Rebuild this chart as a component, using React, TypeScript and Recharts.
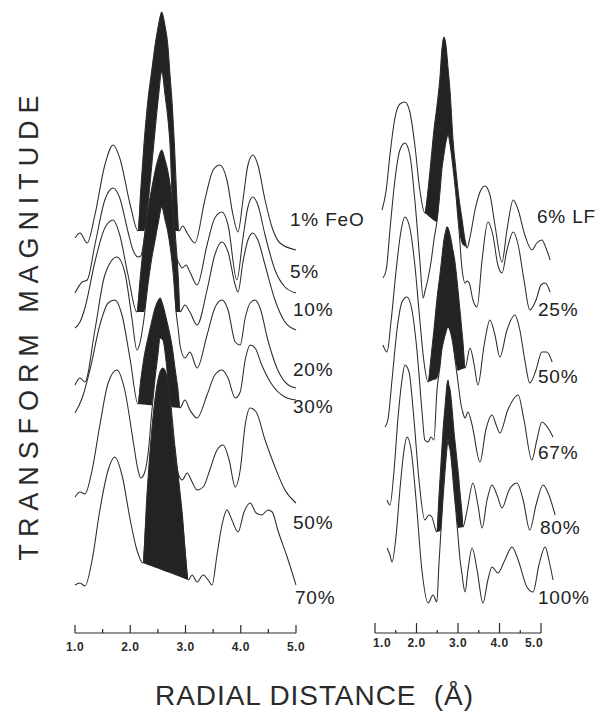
import React from "react";
import { ComposedChart, Line, Area, XAxis, YAxis, ReferenceLine } from "recharts";

// radial distance (Å) ticks, same for both panels
const TICKS = [1, 1.5, 2, 2.5, 3, 3.5, 4, 4.5, 5];

// ---- left panel: FeO series, [r (Å), magnitude] ----
const feo1 = [
  [1.0, 39.5], [1.09, 40.0], [1.22, 39.0], [1.36, 41.8], [1.54, 46.8], [1.69, 48.8], [1.81, 47.5], [2.0, 42.8],
  [2.14, 40.2], [2.19, 44.3], [2.25, 49.0], [2.32, 53.3], [2.39, 56.3], [2.45, 58.8], [2.51, 60.8], [2.57, 62.1],
  [2.63, 60.7], [2.68, 58.8], [2.72, 55.8], [2.76, 52.8], [2.8, 48.8], [2.84, 43.8], [2.88, 40.2],
  [2.95, 40.7], [3.03, 40.0], [3.17, 39.0], [3.35, 43.3], [3.5, 46.3], [3.62, 46.8], [3.75, 45.3], [3.86, 41.8],
  [3.95, 40.1], [4.04, 43.3], [4.13, 46.8], [4.22, 47.8], [4.31, 46.8], [4.44, 43.3], [4.57, 40.5], [4.71, 39.0], [5.0, 38.3],
];
const feo5 = [
  [1.0, 34.0], [1.13, 35.1], [1.22, 35.3], [1.36, 38.8], [1.54, 43.3], [1.69, 44.5], [1.81, 43.5], [1.96, 40.1], [2.05, 38.3],
  [2.14, 37.6], [2.19, 37.7], [2.25, 39.3], [2.32, 42.8], [2.39, 46.8], [2.45, 50.3], [2.51, 53.6], [2.57, 56.1],
  [2.63, 53.8], [2.68, 51.5], [2.72, 48.8], [2.76, 43.3], [2.8, 38.8], [2.84, 37.5], [2.88, 37.0],
  [2.94, 36.5], [3.01, 36.8], [3.08, 36.1], [3.21, 34.8], [3.39, 38.8], [3.53, 41.5], [3.66, 42.1], [3.77, 40.8],
  [3.93, 35.3], [4.04, 39.5], [4.13, 42.6], [4.22, 43.6], [4.31, 42.8], [4.44, 39.8], [4.62, 36.3], [4.8, 34.6], [5.0, 34.0],
];
const feo10 = [
  [1.0, 30.5], [1.09, 31.1], [1.18, 32.5], [1.36, 37.1], [1.54, 40.5], [1.69, 41.3], [1.81, 39.8], [1.96, 35.8],
  [2.12, 32.1], [2.18, 35.5], [2.25, 39.3], [2.32, 42.3], [2.39, 44.5], [2.45, 46.2], [2.51, 47.5], [2.57, 48.3],
  [2.63, 47.3], [2.68, 46.2], [2.73, 44.5], [2.78, 42.3], [2.83, 38.8], [2.87, 35.5], [2.9, 32.1],
  [2.99, 32.8], [3.08, 32.1], [3.21, 30.8], [3.39, 34.3], [3.53, 37.8], [3.66, 39.1], [3.77, 38.1], [3.9, 34.8],
  [3.95, 34.1], [4.04, 37.1], [4.13, 39.3], [4.22, 40.0], [4.31, 39.3], [4.44, 36.8], [4.62, 33.3], [4.8, 31.1], [5.0, 30.3],
];
const feo20 = [
  [1.0, 24.8], [1.09, 25.5], [1.18, 25.1], [1.36, 30.3], [1.54, 35.8], [1.76, 37.6], [1.9, 36.1], [2.03, 31.5],
  [2.12, 28.3], [2.18, 29.1], [2.25, 31.5], [2.32, 34.8], [2.39, 37.5], [2.45, 39.3], [2.51, 41.1], [2.57, 42.6],
  [2.63, 41.3], [2.68, 40.1], [2.73, 38.3], [2.78, 35.8], [2.83, 32.1], [2.87, 30.3], [2.9, 28.8],
  [2.99, 27.5], [3.08, 28.1], [3.21, 26.5], [3.39, 29.8], [3.53, 32.5], [3.66, 33.3], [3.77, 32.3], [3.9, 29.1],
  [3.99, 28.8], [4.08, 31.5], [4.17, 33.0], [4.26, 33.3], [4.35, 32.5], [4.49, 29.3], [4.67, 26.3], [4.86, 24.8], [5.0, 24.5],
];
const feo30 = [
  [1.0, 22.0], [1.13, 23.5], [1.27, 26.3], [1.45, 30.8], [1.6, 33.0], [1.72, 33.3], [1.85, 31.8], [2.0, 27.3],
  [2.14, 22.9], [2.19, 25.3], [2.25, 27.6], [2.32, 29.5], [2.39, 31.2], [2.45, 32.5], [2.5, 33.2], [2.54, 33.5],
  [2.59, 32.8], [2.65, 31.5], [2.7, 30.3], [2.76, 28.6], [2.81, 26.5], [2.86, 24.5], [2.9, 22.5],
  [2.99, 23.3], [3.08, 22.3], [3.21, 21.5], [3.39, 23.8], [3.53, 25.8], [3.66, 26.3], [3.77, 25.5], [3.9, 23.5],
  [3.99, 24.1], [4.08, 27.3], [4.17, 28.8], [4.26, 28.5], [4.38, 26.8], [4.57, 24.8], [4.8, 23.6], [5.0, 23.3],
];
const feo50 = [
  [1.0, 13.6], [1.09, 14.1], [1.18, 13.9], [1.31, 16.3], [1.45, 20.8], [1.6, 25.0], [1.76, 26.3], [1.9, 24.3], [2.05, 19.3],
  [2.14, 16.3], [2.19, 15.5], [2.25, 15.9], [2.32, 17.8], [2.39, 22.1], [2.45, 25.5], [2.5, 27.8], [2.54, 29.5],
  [2.59, 29.3], [2.65, 27.1], [2.7, 24.1], [2.76, 20.1], [2.81, 17.5], [2.86, 16.1], [2.9, 15.5],
  [2.94, 15.3], [3.03, 16.0], [3.12, 15.1], [3.21, 14.3], [3.32, 14.6], [3.44, 16.3], [3.57, 18.3], [3.68, 18.8],
  [3.79, 17.3], [3.9, 14.6], [3.99, 16.3], [4.08, 20.8], [4.17, 22.5], [4.28, 22.1], [4.44, 19.3], [4.62, 16.6], [4.8, 14.3], [5.0, 13.0],
];
const feo70 = [
  [1.0, 4.8], [1.09, 5.0], [1.18, 4.7], [1.31, 7.3], [1.45, 12.3], [1.6, 16.3], [1.72, 17.6], [1.85, 15.8], [2.0, 11.3],
  [2.12, 8.3], [2.23, 7.0], [2.3, 13.6], [2.39, 20.3], [2.5, 25.3], [2.59, 26.5], [2.68, 25.3], [2.81, 18.6], [2.94, 12.0],
  [3.05, 5.3], [3.12, 5.8], [3.21, 5.1], [3.32, 5.8], [3.41, 5.3], [3.48, 4.8], [3.57, 7.8], [3.66, 10.8], [3.75, 12.3],
  [3.84, 11.3], [3.95, 10.1], [4.06, 12.1], [4.17, 13.0], [4.28, 12.0], [4.38, 11.8], [4.49, 12.3], [4.57, 12.1],
  [4.67, 10.3], [4.84, 7.6], [5.0, 4.8],
];

// ---- right panel: LF series ----
const lf6 = [
  [1.17, 42.3], [1.27, 44.3], [1.36, 47.8], [1.48, 51.5], [1.6, 52.9], [1.72, 53.1], [1.84, 52.1], [1.96, 48.8], [2.08, 44.3],
  [2.2, 42.0], [2.28, 44.4], [2.35, 47.3], [2.42, 50.3], [2.49, 52.6], [2.57, 55.8], [2.61, 58.3], [2.66, 59.6],
  [2.71, 58.8], [2.76, 56.5], [2.81, 54.1], [2.88, 49.3], [2.95, 46.3], [3.02, 43.6], [3.1, 41.3], [3.17, 39.3], [3.22, 38.5],
  [3.29, 39.6], [3.41, 42.3], [3.53, 44.1], [3.65, 44.7], [3.77, 43.8], [3.89, 40.8], [4.06, 37.1], [4.18, 40.3],
  [4.33, 43.3], [4.45, 42.3], [4.61, 39.8], [4.78, 38.3], [4.9, 39.0], [5.02, 39.3], [5.12, 38.5], [5.22, 37.3],
];
const lf25 = [
  [1.19, 35.5], [1.27, 36.3], [1.36, 40.3], [1.48, 45.3], [1.6, 48.3], [1.72, 49.0], [1.84, 47.8], [1.96, 43.3], [2.08, 37.3], [2.16, 33.5],
  [2.2, 34.1], [2.28, 35.5], [2.35, 37.1], [2.42, 39.3], [2.49, 41.1], [2.57, 44.3], [2.61, 46.3], [2.66, 47.8],
  [2.71, 49.1], [2.76, 49.8], [2.81, 48.8], [2.88, 46.5], [2.95, 43.8], [3.02, 40.5], [3.1, 36.3], [3.17, 35.0], [3.22, 35.2],
  [3.27, 35.0], [3.36, 33.3], [3.46, 32.6], [3.58, 37.3], [3.72, 41.1], [3.84, 39.8], [3.96, 36.8], [4.06, 36.0],
  [4.18, 38.3], [4.33, 40.1], [4.45, 38.8], [4.59, 35.3], [4.73, 32.3], [4.88, 33.3], [5.0, 34.8], [5.1, 35.0], [5.22, 34.1],
];
const lf50 = [
  [1.19, 28.8], [1.29, 28.1], [1.39, 31.3], [1.51, 36.3], [1.63, 40.3], [1.72, 41.6], [1.84, 40.5], [1.96, 36.8], [2.08, 31.3], [2.18, 27.1],
  [2.28, 25.1], [2.35, 27.6], [2.42, 30.3], [2.49, 33.3], [2.57, 36.0], [2.61, 37.5], [2.66, 39.3], [2.71, 40.3],
  [2.73, 40.6], [2.76, 40.5], [2.81, 39.8], [2.86, 38.7], [2.93, 37.0], [3.0, 34.3], [3.07, 31.3], [3.12, 29.1], [3.17, 26.5],
  [3.29, 28.5], [3.39, 26.8], [3.48, 24.8], [3.63, 28.8], [3.77, 31.3], [3.89, 29.8], [4.01, 27.6], [4.18, 30.3],
  [4.37, 31.8], [4.49, 30.3], [4.61, 27.3], [4.73, 25.0], [4.88, 26.3], [5.02, 28.1], [5.14, 28.1], [5.27, 27.1],
];
const lf67 = [
  [1.24, 20.6], [1.31, 21.3], [1.41, 25.3], [1.53, 30.3], [1.65, 33.1], [1.77, 33.6], [1.89, 32.3], [2.01, 28.3], [2.13, 22.3], [2.2, 19.3],
  [2.28, 19.1], [2.35, 19.6], [2.42, 19.3], [2.49, 24.1], [2.57, 26.8], [2.61, 28.3], [2.66, 29.3], [2.71, 30.1],
  [2.73, 30.4], [2.76, 30.6], [2.81, 30.2], [2.86, 29.3], [2.93, 27.3], [3.0, 25.1], [3.07, 22.9], [3.12, 22.0], [3.17, 21.5],
  [3.24, 22.1], [3.34, 20.8], [3.53, 17.1], [3.67, 20.3], [3.82, 21.8], [3.92, 20.8], [4.01, 20.0], [4.2, 22.3],
  [4.45, 23.8], [4.59, 21.3], [4.78, 17.3], [4.9, 19.3], [5.02, 21.1], [5.17, 20.5], [5.29, 19.6],
];
const lf80 = [
  [1.29, 13.3], [1.36, 12.8], [1.46, 16.3], [1.55, 21.3], [1.65, 25.3], [1.72, 26.8], [1.82, 26.1], [1.94, 21.3],
  [2.06, 15.3], [2.2, 11.3], [2.3, 11.8], [2.37, 11.6],
  [2.49, 10.1], [2.54, 13.6], [2.59, 17.0], [2.64, 20.3], [2.69, 22.8], [2.71, 23.8], [2.73, 24.7], [2.76, 25.3],
  [2.78, 24.8], [2.81, 24.3], [2.86, 22.3], [2.9, 20.3], [2.95, 18.3], [3.0, 16.3], [3.05, 14.0], [3.1, 11.8], [3.12, 10.6],
  [3.22, 12.3], [3.36, 15.0], [3.48, 12.8], [3.58, 10.5], [3.7, 13.3], [3.82, 14.8], [3.94, 13.8], [4.06, 12.5],
  [4.23, 14.3], [4.42, 15.0], [4.57, 13.3], [4.73, 10.3], [4.88, 12.8], [5.05, 14.8], [5.19, 13.8], [5.34, 11.8],
];
const lf100 = [
  [1.29, 8.5], [1.36, 7.8], [1.41, 7.1], [1.51, 9.8], [1.6, 14.3], [1.7, 18.3], [1.77, 19.6], [1.87, 18.3], [1.99, 13.3],
  [2.13, 6.3], [2.28, 3.0], [2.4, 3.8],
  [2.49, 3.1], [2.54, 6.8], [2.59, 10.3], [2.64, 13.5], [2.69, 16.3], [2.71, 17.3], [2.73, 18.3], [2.76, 19.3],
  [2.78, 18.8], [2.81, 18.3], [2.86, 16.3], [2.9, 14.3], [2.95, 12.1], [3.0, 9.7], [3.05, 7.3], [3.1, 5.8], [3.12, 5.1],
  [3.17, 4.1], [3.24, 6.3], [3.34, 8.5], [3.46, 6.3], [3.6, 3.0], [3.72, 5.3], [3.82, 6.6], [3.96, 6.0], [4.13, 7.3],
  [4.3, 8.6], [4.45, 7.3], [4.66, 4.6], [4.81, 4.1], [4.95, 6.8], [5.1, 8.6], [5.19, 7.3], [5.29, 5.3],
];

const leftSeries = [feo1, feo5, feo10, feo20, feo30, feo50, feo70];
const rightSeries = [lf6, lf25, lf50, lf67, lf80, lf100];

// shaded Fe-Fe peaks: area between a curve and the one below it (or its own foot line)
const leftShades = [
  { upper: feo1, lower: feo5, from: 2.14, to: 2.88 },
  { upper: feo10, lower: feo20, from: 2.12, to: 2.9 },
  { upper: feo30, lower: feo50, from: 2.14, to: 2.9 },
  { upper: feo70, lower: null, from: 2.23, to: 3.05 },
];
const rightShades = [
  { upper: lf6, lower: lf25, from: 2.2, to: 3.22 },
  { upper: lf50, lower: lf67, from: 2.28, to: 3.17 },
  { upper: lf80, lower: lf100, from: 2.49, to: 3.12 },
];

const leftLabels = ["1% FeO", "5%", "10%", "20%", "30%", "50%", "70%"];
const rightLabels = ["6% LF", "25%", "50%", "67%", "80%", "100%"];

const INK = "#2b2b2b";
const FONT = '"Liberation Sans", Arial, Helvetica, sans-serif';

const toRows = (pts: number[][]) => pts.map(([r, v]) => ({ r, v }));

function interp(pts: number[][], r: number) {
  for (let i = 0; i < pts.length - 1; i++) {
    const [r0, v0] = pts[i];
    const [r1, v1] = pts[i + 1];
    if (r >= r0 - 1e-9 && r <= r1 + 1e-9) return v0 + ((v1 - v0) * (r - r0)) / (r1 - r0);
  }
  return pts[pts.length - 1][1];
}

function shadeRows(s: { upper: number[][]; lower: number[][] | null; from: number; to: number }) {
  const seg = s.upper.filter(([r]) => r >= s.from - 1e-9 && r <= s.to + 1e-9);
  const a = seg[0];
  const b = seg[seg.length - 1];
  return seg.map(([r, v]) => {
    const chord = a[1] + ((b[1] - a[1]) * (r - a[0])) / (b[0] - a[0]);
    const floor = s.lower ? Math.max(chord, interp(s.lower, r)) : chord;
    return { r, band: [Math.min(floor, v), v] };
  });
}

function makeTick(side: "left" | "right") {
  return (props: any) => {
    const { x, y, payload } = props;
    const v = payload.value as number;
    const major = Math.abs(v - Math.round(v)) < 1e-6;
    const len = major ? (side === "left" ? 8 : 10) : side === "left" ? 4 : 3;
    let dx = 0;
    if (side === "right" && v === 1) dx = 7;
    if (side === "right" && v === 5) dx = -7;
    return (
      <g>
        <line x1={x} x2={x} y1={y} y2={y - len} stroke={INK} strokeWidth={1.2} />
        {major && (
          <text x={x + dx} y={y + (side === "left" ? 18 : 14)} textAnchor="middle" fontSize={12}
            fontWeight={700} fill={INK} fontFamily={FONT} letterSpacing={0.5}>
            {v.toFixed(1)}
          </text>
        )}
      </g>
    );
  };
}

function Panel({ left, width, marginRight, domain, series, shades, side }: any) {
  return (
    <div style={{ position: "absolute", left, top: 0 }}>
      <ComposedChart width={width} height={660} margin={{ top: 0, right: marginRight, bottom: 0, left: 15 }}>
        <XAxis dataKey="r" type="number" domain={domain} ticks={TICKS} interval={0} tick={makeTick(side)}
          tickLine={false} axisLine={false} tickSize={0} tickMargin={0} height={27} />
        <YAxis hide type="number" domain={[0, 63.3]} />
        <ReferenceLine segment={[{ x: 1, y: 0 }, { x: 5, y: 0 }]} stroke={INK} strokeWidth={1.2} ifOverflow="visible" />
        {shades.map((s: any, i: number) => (
          <Area key={`s${i}`} data={shadeRows(s)} dataKey="band" type="monotone" stroke="none"
            fill="#232323" fillOpacity={1} isAnimationActive={false} activeDot={false} />
        ))}
        {series.map((pts: number[][], i: number) => (
          <Line key={`l${i}`} data={toRows(pts)} dataKey="v" type="monotone" stroke={INK} strokeWidth={1.05}
            dot={false} activeDot={false} isAnimationActive={false} />
        ))}
      </ComposedChart>
    </div>
  );
}

export default function App() {
  const leftPos = [[290, 226], [290, 278], [293, 316], [293, 376], [293, 413], [293, 529], [295, 604]];
  const rightPos = [[537, 223], [538, 316], [538, 383], [538, 459], [540, 534], [538, 604]];
  return (
    <div style={{ position: "absolute", left: 0, top: 0, width: 605, height: 712, background: "#fff", overflow: "hidden" }}>
      <Panel left={60} width={250} marginRight={14} domain={[1, 5]} series={leftSeries} shades={leftShades} side="left" />
      <Panel left={360} width={200} marginRight={2.4} domain={[1, 5.4]} series={rightSeries} shades={rightShades} side="right" />
      <svg width={605} height={712} style={{ position: "absolute", left: 0, top: 0, pointerEvents: "none" }}>
        <g fontFamily={FONT} fill="#222" fontSize={19} letterSpacing={0.8}>
          {leftLabels.map((t, i) => (
            <text key={t} x={leftPos[i][0]} y={leftPos[i][1]} style={{ whiteSpace: "pre" }}>{t}</text>
          ))}
          {rightLabels.map((t, i) => (
            <text key={t} x={rightPos[i][0]} y={rightPos[i][1]} style={{ whiteSpace: "pre" }}>{t}</text>
          ))}
        </g>
        <text transform="translate(29,328) rotate(-90)" textAnchor="middle" dominantBaseline="central"
          fontFamily={FONT} fontSize={27} fill="#2a2a2a" textLength={465} lengthAdjust="spacing">
          TRANSFORM MAGNITUDE
        </text>
        <text x={314} y={705} textAnchor="middle" fontFamily={FONT} fontSize={28} fill="#2a2a2a"
          textLength={318} lengthAdjust="spacing" style={{ whiteSpace: "pre" }}>
          RADIAL DISTANCE  (Å)
        </text>
      </svg>
    </div>
  );
}
